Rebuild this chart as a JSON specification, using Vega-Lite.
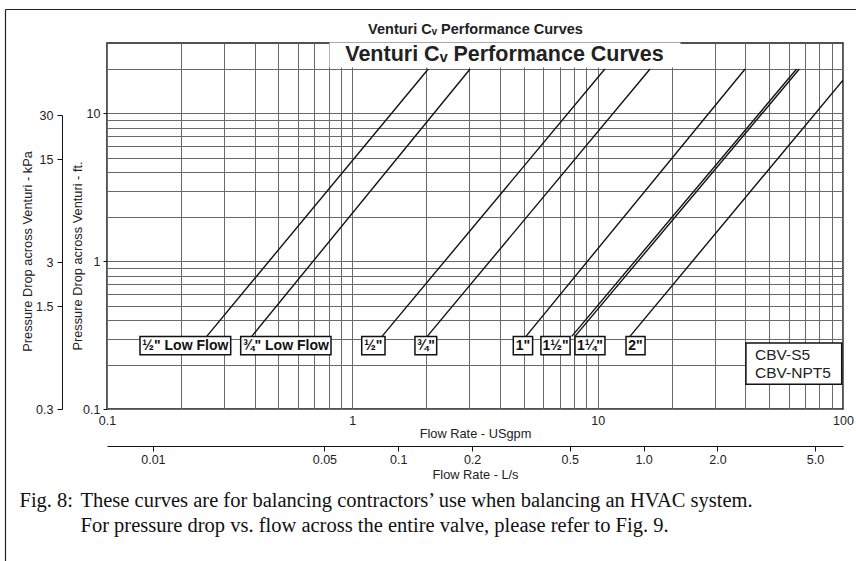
{
  "$schema": "https://vega.github.io/schema/vega-lite/v6.json",
  "width": 736,
  "height": 366,
  "autosize": {"type": "none"},
  "padding": {"left": 107, "top": 43, "right": 13, "bottom": 152},
  "background": "white",
  "config": {
    "view": {"stroke": "#1a1a1a", "strokeWidth": 1.5},
    "font": "Liberation Sans",
    "axis": {"labelFont": "Liberation Sans", "titleFont": "Liberation Sans", "labelColor": "#222", "titleColor": "#222", "titleFontWeight": "normal"}
  },
  "datasets": {
    "curves": [
      {"size": "½\" Low Flow", "flow": 0.255, "ft": 0.31},
      {"size": "½\" Low Flow", "flow": 2.04, "ft": 20},
      {"size": "¾\" Low Flow", "flow": 0.389, "ft": 0.31},
      {"size": "¾\" Low Flow", "flow": 3.02, "ft": 20},
      {"size": "½\"", "flow": 1.321, "ft": 0.31},
      {"size": "½\"", "flow": 10.7, "ft": 20},
      {"size": "¾\"", "flow": 2.02, "ft": 0.31},
      {"size": "¾\"", "flow": 16.35, "ft": 20},
      {"size": "1\"", "flow": 5.10, "ft": 0.31},
      {"size": "1\"", "flow": 39.9, "ft": 20},
      {"size": "1½\"", "flow": 7.84, "ft": 0.31},
      {"size": "1½\"", "flow": 64.7, "ft": 20},
      {"size": "1¼\"", "flow": 8.08, "ft": 0.31},
      {"size": "1¼\"", "flow": 66.4, "ft": 20},
      {"size": "2\"", "flow": 13.54, "ft": 0.31},
      {"size": "2\"", "flow": 100, "ft": 16.8}
    ],
    "labels": [
      {"label": "½\" Low Flow", "lo": 0.1363, "hi": 0.3193, "mid": 0.2086},
      {"label": "¾\" Low Flow", "lo": 0.3507, "hi": 0.8186, "mid": 0.5358},
      {"label": "½\"", "lo": 1.092, "hi": 1.359, "mid": 1.218},
      {"label": "¾\"", "lo": 1.80, "hi": 2.207, "mid": 1.993},
      {"label": "1\"", "lo": 4.53, "hi": 5.43, "mid": 4.96},
      {"label": "1½\"", "lo": 5.87, "hi": 7.72, "mid": 6.73},
      {"label": "1¼\"", "lo": 8.08, "hi": 10.71, "mid": 9.30},
      {"label": "2\"", "lo": 13.05, "hi": 15.6, "mid": 14.27}
    ]
  },
  "layer": [
    {
      "layer": [
        {
          "data": {"name": "curves"},
          "mark": {"type": "line", "stroke": "#111", "strokeWidth": 1.4, "clip": true},
          "encoding": {
            "x": {
              "field": "flow", "type": "quantitative",
              "scale": {"type": "log", "domain": [0.1, 100], "nice": false},
              "axis": {
                "title": "Flow Rate - USgpm",
                "values": [0.1, 0.2, 0.3, 0.4, 0.5, 0.6, 0.7, 0.8, 0.9, 1, 2, 3, 4, 5, 6, 7, 8, 9, 10, 20, 30, 40, 50, 60, 70, 80, 90, 100],
                "format": "~g",
                "labelExpr": "datum.value == 0.1 || datum.value == 1 || datum.value == 10 || datum.value == 100 ? datum.label : ''",
                "ticks": false, "domain": false, "grid": true,
                "gridColor": "#6a6a6a", "gridWidth": 1, "gridOpacity": 1,
                "labelFontSize": 12.5, "labelPadding": 5, "labelFlush": false, "labelOverlap": false,
                "titleFontSize": 12.8, "titleY": 24, "titleBaseline": "middle"
              }
            },
            "y": {
              "field": "ft", "type": "quantitative",
              "scale": {"type": "log", "domain": [0.1, 30], "nice": false},
              "axis": {
                "title": "Pressure Drop across Venturi - ft.",
                "values": [0.1, 0.2, 0.3, 0.4, 0.5, 0.6, 0.7, 0.8, 0.9, 1, 2, 3, 4, 5, 6, 7, 8, 9, 10, 20],
                "format": "~g",
                "labelExpr": "datum.value == 0.1 || datum.value == 1 || datum.value == 10 ? datum.label : ''",
                "ticks": true, "tickSize": 4, "tickColor": "#111",
                "tickOpacity": {"condition": {"test": "datum.value == 0.1 || datum.value == 1 || datum.value == 10", "value": 1}, "value": 0},
                "domain": false, "grid": true,
                "gridColor": "#6a6a6a", "gridWidth": 1, "gridOpacity": 1,
                "labelFontSize": 12.5, "labelPadding": 3, "labelOverlap": false,
                "titleFontSize": 12.8, "titleX": -29.7, "titleY": 212.5, "titleAngle": -90,
                "titleBaseline": "middle", "titleAlign": "center"
              }
            },
            "detail": {"field": "size"}
          }
        },
        {
          "data": {"name": "labels"},
          "mark": {"type": "rect", "fill": "white", "stroke": "#111", "strokeWidth": 1.5},
          "encoding": {
            "x": {"field": "lo", "type": "quantitative"},
            "x2": {"field": "hi"},
            "y": {"datum": 0.233, "type": "quantitative"},
            "y2": {"datum": 0.309}
          }
        },
        {
          "data": {"name": "labels"},
          "mark": {"type": "text", "fontWeight": "bold", "fontSize": 14, "font": "Liberation Sans", "baseline": "middle", "align": "center", "color": "#111"},
          "encoding": {
            "x": {"field": "mid", "type": "quantitative"},
            "y": {"datum": 0.268, "type": "quantitative"},
            "text": {"field": "label"}
          }
        },
        {
          "data": {"values": [{"model": "CBV-S5 / CBV-NPT5"}]},
          "mark": {"type": "rect", "fill": "white", "stroke": "#111", "strokeWidth": 1.5},
          "encoding": {
            "x": {"datum": 40.2, "type": "quantitative"},
            "x2": {"datum": 98.8},
            "y": {"datum": 0.147, "type": "quantitative"},
            "y2": {"datum": 0.280}
          }
        },
        {
          "data": {"values": [{"model": "CBV-S5 / CBV-NPT5"}]},
          "mark": {"type": "text", "fontSize": 15.5, "font": "Liberation Sans", "baseline": "middle", "align": "left", "lineHeight": 18, "color": "#222"},
          "encoding": {
            "x": {"datum": 43.8, "type": "quantitative"},
            "y": {"datum": 0.233, "type": "quantitative"},
            "text": {"value": ["CBV-S5", "CBV-NPT5"]}
          }
        }
      ]
    },
    {
      "data": {"values": [{"kpa": 0.3}, {"kpa": 30}]},
      "mark": {"type": "rule", "opacity": 0},
      "encoding": {
        "y": {
          "field": "kpa", "type": "quantitative",
          "scale": {"type": "log", "domain": [0.3, 30], "range": [366, 72], "nice": false},
          "axis": {
            "orient": "left", "offset": 45,
            "values": [0.3, 1.5, 3, 15, 30], "format": "~g",
            "grid": false, "domain": true, "domainColor": "#111", "domainWidth": 1,
            "ticks": true, "tickSize": 5, "tickColor": "#111",
            "labelPadding": 4, "labelFontSize": 12.5, "labelOverlap": false,
            "title": "Pressure Drop across Venturi - kPa",
            "titleFontSize": 12.8, "titleX": -34.7, "titleY": 208, "titleAngle": -90,
            "titleBaseline": "middle", "titleAlign": "center"
          }
        }
      }
    },
    {
      "data": {"values": [{"ls": 0.01}, {"ls": 5}]},
      "mark": {"type": "rule", "opacity": 0},
      "encoding": {
        "x": {
          "field": "ls", "type": "quantitative",
          "scale": {"type": "log", "domain": [0.0065, 6.5], "nice": false},
          "axis": {
            "orient": "bottom", "offset": 37,
            "values": [0.01, 0.05, 0.1, 0.2, 0.5, 1, 2, 5],
            "labelExpr": "datum.value >= 1 ? format(datum.value, '.1f') : format(datum.value, '~g')",
            "grid": false, "domain": true, "domainColor": "#111", "domainWidth": 1.2,
            "ticks": true, "tickSize": 5, "tickColor": "#111",
            "labelPadding": 2, "labelFontSize": 12.5, "labelFlush": false, "labelOverlap": false,
            "title": "Flow Rate - L/s",
            "titleFontSize": 12.8, "titleY": 28, "titleBaseline": "middle"
          }
        }
      }
    },
    {
      "data": {"values": [{"a": 0, "b": 0}]},
      "mark": {"type": "point", "opacity": 0},
      "encoding": {
        "x": {
          "field": "a", "type": "quantitative",
          "scale": {"domain": [0, 1], "range": [-102, 749], "nice": false},
          "axis": {
            "orient": "top", "offset": 34,
            "domain": true, "domainColor": "#222", "domainWidth": 1.2,
            "ticks": false, "labels": false, "grid": false,
            "title": "Venturi Cᵥ Performance Curves",
            "titleX": 368, "titleY": 20, "titleBaseline": "middle", "titleAlign": "center", "titleAngle": 0,
            "titleFontSize": 14.5, "titleFontWeight": "bold"
          }
        },
        "y": {
          "field": "b", "type": "quantitative",
          "scale": {"domain": [0, 1], "range": [518, -34], "nice": false},
          "axis": {
            "orient": "left", "offset": 102,
            "domain": true, "domainColor": "#222", "domainWidth": 1.2,
            "ticks": false, "labels": false, "grid": false,
            "title": "Fig. 8:",
            "titleX": 14, "titleY": 457, "titleAngle": 0, "titleAlign": "left", "titleBaseline": "middle",
            "titleFont": "Liberation Serif", "titleFontSize": 20.5, "titleFontWeight": "normal", "titleColor": "#111"
          }
        }
      }
    },
    {
      "data": {"values": [{"a": 0, "b": 0}]},
      "mark": {"type": "point", "opacity": 0},
      "encoding": {
        "x": {
          "field": "a", "type": "quantitative",
          "scale": {"domain": [0, 1], "range": [222, 573], "nice": false},
          "axis": {
            "orient": "top", "offset": -11.5, "zindex": 1,
            "domain": true, "domainColor": "white", "domainWidth": 25,
            "ticks": false, "labels": false, "grid": false,
            "title": "Venturi Cᵥ Performance Curves",
            "titleX": 397, "titleY": 0, "titleBaseline": "middle", "titleAlign": "center", "titleAngle": 0,
            "titleFontSize": 21.5, "titleFontWeight": "bold"
          }
        },
        "y": {
          "field": "b", "type": "quantitative",
          "scale": {"domain": [0, 1], "nice": false},
          "axis": {
            "orient": "left", "offset": 0,
            "domain": false, "ticks": false, "labels": false, "grid": false,
            "title": ["These curves are for balancing contractors’ use when balancing an HVAC system.", "For pressure drop vs. flow across the entire valve, please refer to Fig. 9."],
            "titleX": -27, "titleY": 457, "titleAngle": 0, "titleAlign": "left", "titleBaseline": "middle",
            "titleFont": "Liberation Serif", "titleFontSize": 20.5, "titleFontWeight": "normal", "titleLineHeight": 25, "titleColor": "#111"
          }
        }
      }
    }
  ],
  "resolve": {
    "scale": {"x": "independent", "y": "independent"},
    "axis": {"x": "independent", "y": "independent"}
  }
}
